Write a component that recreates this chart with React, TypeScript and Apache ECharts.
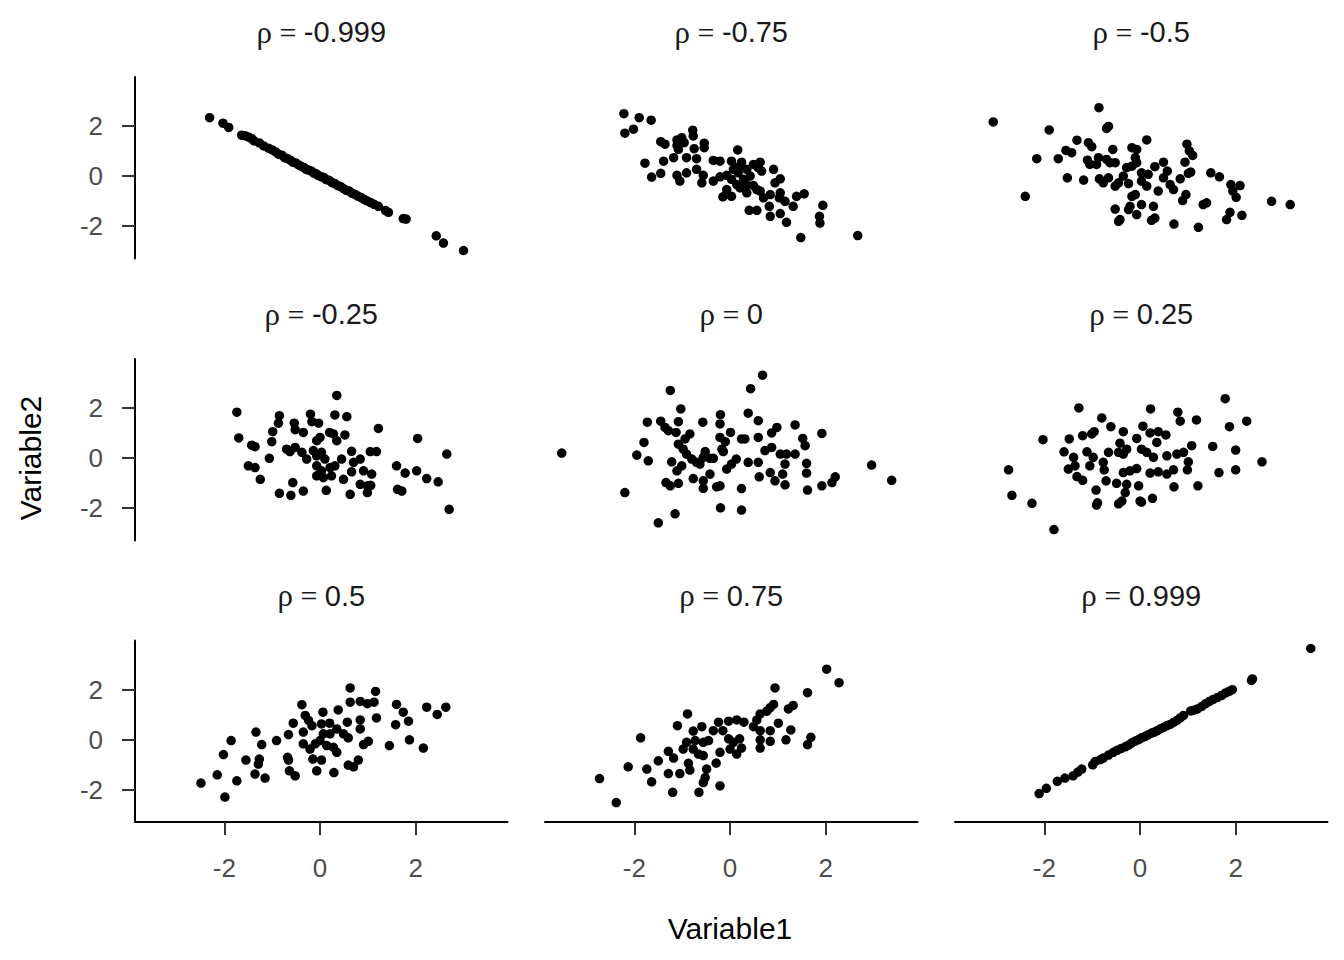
import React, { useEffect, useRef } from "react";
import * as echarts from "echarts";

const rhoLabels = ["-0.999", "-0.75", "-0.5", "-0.25", "0", "0.25", "0.5", "0.75", "0.999"];
const tickValues = [-2, 0, 2];
const xTitle = "Variable1";
const yTitle = "Variable2";

const rhoNeg999 = [[-2.31,2.34],[-2.03,2.12],[-1.91,1.95],[-1.64,1.64],[-1.57,1.62],[-1.50,1.57],[-1.43,1.50],[-1.38,1.41],[-1.27,1.33],[-1.18,1.21],[-1.08,1.12],[-1.00,1.05],[-0.93,0.97],[-0.87,0.88],[-0.80,0.84],[-0.74,0.74],[-0.68,0.70],[-0.62,0.64],[-0.57,0.56],[-0.51,0.53],[-0.45,0.45],[-0.40,0.40],[-0.34,0.35],[-0.29,0.27],[-0.24,0.24],[-0.18,0.20],[-0.13,0.12],[-0.08,0.09],[-0.03,0.02],[0.03,-0.03],[0.08,-0.06],[0.13,-0.14],[0.19,-0.17],[0.25,-0.26],[0.31,-0.30],[0.37,-0.38],[0.43,-0.42],[0.49,-0.50],[0.55,-0.57],[0.61,-0.60],[0.67,-0.69],[0.73,-0.73],[0.79,-0.80],[0.86,-0.86],[0.92,-0.93],[0.98,-0.99],[1.06,-1.06],[1.13,-1.13],[1.22,-1.21],[1.37,-1.38],[1.43,-1.45],[1.74,-1.70],[1.80,-1.72],[2.43,-2.39],[2.58,-2.68],[3.00,-2.98]];

const rhoNeg75 = [[-2.22,2.50],[-1.90,2.34],[-1.65,2.24],[-2.20,1.72],[-2.02,1.88],[-0.78,1.84],[-0.77,1.61],[-1.45,1.38],[-1.36,1.28],[-1.11,1.45],[-1.01,1.54],[-0.96,1.34],[-1.08,1.07],[-1.11,1.23],[-0.54,1.32],[-0.54,1.14],[-0.75,1.10],[0.16,1.05],[-1.78,0.52],[-1.39,0.60],[-1.18,0.74],[-0.91,0.74],[-0.70,0.70],[-0.35,0.63],[-0.21,0.60],[0.03,0.60],[0.24,0.56],[0.49,0.47],[0.63,0.56],[0.59,0.34],[0.91,0.27],[-1.64,-0.04],[-1.45,0.11],[-1.11,0.03],[-0.91,0.13],[-1.05,-0.20],[-0.70,0.27],[-0.56,0.03],[-0.59,-0.27],[-0.35,-0.20],[-0.21,-0.03],[-0.07,0.03],[0.07,0.27],[0.17,0.13],[0.28,-0.13],[0.35,-0.34],[0.49,-0.38],[0.66,0.20],[1.05,-0.11],[0.94,-0.27],[-0.15,-0.83],[0.03,-0.81],[-0.07,-0.54],[0.35,-0.67],[0.56,-0.54],[0.63,-0.60],[0.70,-0.87],[0.84,-0.74],[1.05,-0.67],[1.03,-0.87],[1.15,-1.01],[1.32,-1.21],[1.39,-0.81],[1.55,-0.71],[1.94,-1.17],[1.87,-1.61],[1.88,-1.88],[0.40,-1.37],[0.56,-1.37],[0.84,-1.61],[0.82,-1.21],[1.05,-1.50],[1.18,-1.85],[1.48,-2.46],[2.67,-2.38],[0.21,0.40],[0.10,0.34],[0.35,0.27],[0.42,0.00],[0.03,-0.13],[0.14,-0.34],[0.21,-0.47]];

const rhoNeg50 = [[-3.07,2.17],[-0.86,2.74],[-1.90,1.85],[-0.70,1.91],[-0.66,1.99],[0.14,1.45],[-1.32,1.44],[-1.08,1.34],[-1.01,1.18],[-1.55,1.03],[-1.43,0.94],[-0.57,1.07],[-0.17,1.14],[-0.07,1.07],[0.98,1.28],[1.03,1.01],[1.10,0.83],[-2.16,0.70],[-1.71,0.70],[-1.10,0.64],[-1.05,0.47],[-0.87,0.74],[-0.91,0.47],[-0.70,0.67],[-0.63,0.54],[-0.52,0.54],[-0.10,0.74],[-0.07,0.54],[-0.17,0.40],[-0.28,0.34],[0.49,0.56],[0.31,0.38],[0.94,0.56],[1.06,0.16],[1.01,0.11],[1.48,0.13],[1.66,-0.03],[0.57,0.20],[0.49,-0.07],[0.63,-0.34],[0.84,-0.11],[0.70,-0.54],[-1.52,-0.07],[-1.18,-0.16],[-0.85,-0.11],[-0.77,-0.27],[-0.66,-0.07],[-0.52,-0.40],[-0.45,-0.27],[-0.35,0.00],[-0.24,-0.30],[0.03,-0.20],[0.14,-0.40],[0.03,0.13],[0.17,0.07],[0.38,-0.60],[1.90,-0.34],[2.09,-0.38],[1.94,-0.60],[2.01,-0.85],[-2.40,-0.81],[-0.17,-0.81],[-0.10,-0.74],[0.96,-0.74],[0.89,-0.98],[0.03,-1.14],[0.28,-1.21],[-0.21,-1.21],[-0.24,-1.34],[-0.52,-1.32],[-0.07,-1.54],[-0.42,-1.74],[-0.45,-1.81],[0.31,-1.68],[0.24,-1.77],[0.71,-1.92],[1.22,-2.05],[1.39,-1.07],[1.32,-1.14],[1.88,-1.45],[1.81,-1.74],[2.13,-1.57],[2.75,-1.01],[3.14,-1.14]];

const rhoNeg25 = [[0.35,2.51],[-1.74,1.84],[-0.85,1.70],[-0.87,1.40],[-0.20,1.76],[-0.17,1.46],[-0.03,1.40],[0.31,1.73],[0.56,1.66],[-0.54,1.40],[-0.52,1.14],[-0.35,1.03],[-0.99,1.06],[-1.01,0.66],[1.22,1.19],[-1.70,0.81],[-1.43,0.52],[-1.36,0.46],[0.00,0.83],[-0.07,0.70],[0.20,1.03],[0.28,0.97],[0.52,0.93],[0.35,0.70],[-0.70,0.36],[-0.63,0.26],[-0.52,0.43],[-0.38,0.23],[-0.28,-0.04],[-0.14,0.30],[-0.07,0.09],[0.03,0.23],[0.10,-0.04],[0.66,0.27],[0.84,-0.04],[0.70,-0.17],[1.05,0.26],[1.18,0.26],[2.04,0.79],[2.65,0.16],[-1.06,-0.01],[-1.50,-0.31],[-1.36,-0.38],[-1.25,-0.85],[-0.07,-0.31],[0.03,-0.51],[0.21,-0.38],[0.45,-0.04],[0.31,-0.31],[-0.07,-0.71],[0.07,-0.78],[0.24,-0.71],[0.49,-0.85],[0.66,-0.55],[0.91,-0.51],[1.08,-0.64],[1.60,-0.31],[1.78,-0.60],[2.02,-0.51],[2.23,-0.82],[2.47,-0.95],[-0.57,-0.98],[-0.85,-1.41],[-0.61,-1.49],[-0.35,-1.32],[0.13,-1.29],[0.63,-1.45],[0.84,-1.05],[0.99,-1.11],[1.06,-1.09],[0.99,-1.38],[1.62,-1.25],[1.71,-1.32],[2.70,-2.05]];

const rhoZero = [[-3.52,0.20],[0.68,3.32],[0.43,2.78],[-1.25,2.71],[-1.03,1.97],[0.38,1.80],[-0.20,1.74],[-0.21,1.37],[-1.73,1.44],[-1.45,1.48],[-1.36,1.23],[-1.29,1.10],[-1.13,1.03],[-1.08,1.46],[-0.57,1.44],[0.59,1.50],[0.98,1.23],[0.87,1.01],[1.36,1.33],[1.92,0.99],[-1.80,0.63],[-1.95,0.12],[-1.71,-0.11],[-0.84,0.97],[-0.94,0.77],[-1.08,0.56],[-0.98,0.36],[-0.91,0.16],[-0.80,-0.04],[-0.70,-0.17],[-0.56,0.03],[-0.52,0.26],[-0.63,-0.24],[-0.42,-0.01],[-0.35,-0.01],[-0.21,0.83],[-0.10,0.66],[-0.17,0.36],[-0.14,0.26],[0.01,1.03],[0.24,0.77],[0.31,0.77],[0.59,0.83],[0.13,-0.04],[0.03,-0.24],[-0.07,-0.44],[0.38,-0.17],[0.59,-0.17],[0.73,0.30],[0.87,0.43],[1.05,0.16],[1.18,0.16],[1.36,0.16],[1.15,-0.24],[1.52,0.79],[1.57,0.50],[1.60,-0.21],[1.60,-0.60],[-1.22,-0.15],[-1.11,-0.51],[-1.01,-0.31],[-1.34,-0.98],[-1.25,-1.11],[-1.08,-1.01],[-0.77,-0.82],[-0.56,-0.91],[-0.56,-1.21],[-0.42,-0.64],[-0.28,-1.15],[-0.21,-1.11],[0.24,-1.22],[0.61,-0.75],[0.84,-0.58],[0.94,-0.91],[1.10,-0.64],[1.15,-1.07],[1.62,-1.28],[1.92,-1.11],[2.13,-0.98],[2.20,-0.75],[2.96,-0.28],[3.38,-0.89],[-2.20,-1.38],[-1.15,-2.23],[-1.50,-2.59],[-0.20,-1.99],[0.24,-2.08]];

const rhoPos25 = [[1.78,2.38],[-1.28,2.01],[0.22,1.97],[0.79,1.84],[0.84,1.48],[1.18,1.53],[2.23,1.48],[-0.80,1.61],[-0.61,1.26],[1.87,1.26],[-0.35,1.06],[0.06,1.28],[-0.07,0.79],[0.21,1.01],[0.38,1.06],[0.54,0.93],[0.35,0.63],[-2.03,0.74],[-1.48,0.77],[-1.20,0.90],[-0.96,1.06],[-1.01,0.97],[-0.42,0.60],[-0.28,0.36],[-0.35,0.16],[0.03,0.36],[0.14,0.23],[0.28,0.03],[1.08,0.50],[1.52,0.47],[2.00,0.32],[2.55,-0.15],[-1.59,0.25],[-1.39,0.03],[-1.36,-0.31],[-1.11,0.25],[-0.98,0.03],[-0.77,-0.17],[-0.66,0.23],[-1.50,-0.44],[-1.32,-0.74],[-1.20,-0.89],[-1.05,-0.31],[-0.75,-0.47],[-0.45,0.23],[0.56,0.09],[0.77,0.16],[0.91,0.23],[1.01,-0.15],[0.99,-0.47],[-0.35,-0.58],[-0.21,-0.51],[-0.07,-0.42],[0.21,-0.60],[0.38,-0.55],[0.56,-0.64],[0.70,-0.47],[1.65,-0.58],[2.00,-0.47],[-2.75,-0.47],[-0.71,-0.91],[-0.49,-1.01],[-0.28,-1.05],[-0.03,-1.11],[0.71,-1.15],[1.21,-1.11],[-0.92,-1.28],[-0.31,-1.38],[-0.38,-1.72],[-0.45,-1.83],[-0.89,-1.79],[-0.91,-1.88],[0.00,-1.72],[0.03,-1.76],[0.26,-1.61],[-2.68,-1.49],[-2.26,-1.81],[-1.80,-2.86]];

const rhoPos50 = [[0.63,2.07],[1.16,1.93],[-0.38,1.40],[0.06,1.10],[0.38,1.19],[0.63,1.50],[0.84,1.53],[0.99,1.44],[1.13,1.50],[1.60,1.41],[2.23,1.30],[2.63,1.30],[2.45,1.01],[1.74,1.10],[1.85,0.74],[1.18,0.87],[0.84,0.79],[0.84,0.43],[0.57,0.70],[1.58,0.60],[-0.56,0.66],[-0.31,0.97],[-0.24,0.77],[-0.17,0.56],[-0.35,0.30],[-1.34,0.30],[-1.86,-0.04],[-1.22,-0.20],[-0.91,-0.04],[-0.66,0.20],[0.03,0.63],[0.20,0.66],[0.07,0.23],[0.21,0.23],[0.35,0.43],[0.49,0.23],[0.59,0.07],[-0.35,-0.17],[-0.21,-0.38],[-0.10,-0.17],[0.00,-0.04],[0.14,-0.24],[0.28,-0.31],[0.35,-0.51],[-0.15,-0.78],[0.03,-0.82],[0.91,-0.20],[1.01,-0.07],[1.45,-0.24],[1.87,-0.01],[2.16,-0.34],[-2.02,-0.60],[-1.55,-0.82],[-1.27,-0.78],[-1.29,-0.98],[-0.68,-0.71],[-0.66,-0.82],[-0.64,-1.25],[-0.52,-1.45],[-0.07,-1.25],[0.29,-1.32],[0.59,-1.02],[0.70,-1.09],[0.80,-0.82],[-2.15,-1.41],[-1.74,-1.65],[-1.36,-1.38],[-1.15,-1.54],[-2.49,-1.74],[-1.99,-2.30]];

const rhoPos75 = [[2.02,2.82],[2.28,2.28],[0.94,2.07],[1.62,1.88],[1.32,1.37],[1.22,1.23],[0.91,1.41],[0.84,1.28],[0.77,1.14],[0.63,1.03],[0.56,0.79],[-0.89,1.03],[-1.10,0.56],[-0.24,0.70],[-0.03,0.74],[0.14,0.79],[0.29,0.70],[-0.59,0.52],[-0.77,0.34],[-0.35,0.36],[-0.15,0.36],[0.49,0.52],[0.63,0.36],[0.84,0.36],[1.01,0.66],[1.27,0.39],[-1.87,0.07],[-0.91,-0.11],[-0.73,-0.04],[-0.56,-0.11],[-0.45,-0.04],[-0.03,0.03],[0.07,-0.11],[0.20,0.03],[0.24,-0.34],[0.14,-0.58],[0.00,-0.38],[0.63,-0.01],[0.84,-0.07],[0.63,-0.34],[1.17,-0.01],[1.69,0.09],[1.62,-0.20],[-1.29,-0.47],[-1.18,-0.74],[-0.98,-0.38],[-0.77,-0.38],[-0.66,-0.58],[-0.56,-0.64],[-0.21,-0.51],[-1.50,-0.85],[-2.13,-1.09],[-1.74,-1.18],[-0.87,-0.95],[-0.84,-1.22],[-0.49,-1.18],[-0.29,-0.94],[-1.29,-1.36],[-1.05,-1.36],[-0.52,-1.52],[-0.56,-1.72],[-1.64,-1.69],[-0.21,-1.85],[-2.73,-1.56],[-1.20,-2.11],[-0.65,-2.11],[-2.38,-2.52]];

const rhoPos999 = [[-2.11,-2.16],[-1.96,-1.95],[-1.73,-1.67],[-1.57,-1.54],[-1.40,-1.45],[-1.30,-1.30],[-1.22,-1.18],[-0.99,-1.01],[-0.94,-0.88],[-0.83,-0.80],[-0.77,-0.74],[-0.66,-0.62],[-0.56,-0.51],[-0.48,-0.43],[-0.40,-0.36],[-0.31,-0.29],[-0.24,-0.22],[-0.17,-0.13],[-0.10,-0.06],[-0.03,0.00],[0.03,0.07],[0.10,0.12],[0.16,0.18],[0.24,0.26],[0.30,0.30],[0.36,0.36],[0.43,0.44],[0.50,0.50],[0.56,0.56],[0.63,0.61],[0.70,0.69],[0.77,0.77],[0.84,0.87],[0.91,0.97],[1.06,1.15],[1.12,1.18],[1.20,1.23],[1.29,1.33],[1.37,1.44],[1.45,1.53],[1.53,1.61],[1.62,1.69],[1.71,1.77],[1.79,1.87],[1.86,1.93],[1.93,2.00],[2.33,2.37],[2.35,2.43],[3.57,3.65]];

const panelData = [rhoNeg999, rhoNeg75, rhoNeg50, rhoNeg25, rhoZero, rhoPos25, rhoPos50, rhoPos75, rhoPos999];

const X_MIN = -3.87, X_MAX = 3.92, Y_MIN = -3.3, Y_MAX = 3.97;
const colLeft = [135, 545, 955];
const panelW = 372.5;
const rowTop = [77, 359, 640.5];
const panelH = 181.5;
const SANS = "'Liberation Sans', Arial, sans-serif";
const SERIF = "'Liberation Serif', 'DejaVu Serif', serif";

export default function App() {
  const ref = useRef<HTMLDivElement>(null);
  useEffect(() => {
    if (!ref.current) return;
    const chart = echarts.init(ref.current, undefined, { renderer: "svg" });
    const grids: any[] = [];
    const xAxes: any[] = [];
    const yAxes: any[] = [];
    const series: any[] = [];
    const graphics: any[] = [];
    for (let i = 0; i < 9; i++) {
      const r = Math.floor(i / 3);
      const c = i % 3;
      grids.push({ left: colLeft[c], top: rowTop[r], width: panelW, height: panelH, containLabel: false });
      const showX = r === 2;
      const showY = c === 0;
      xAxes.push({
        type: "value", gridIndex: i, min: X_MIN, max: X_MAX,
        splitLine: { show: false },
        axisLine: { show: showX, onZero: false, lineStyle: { color: "#000", width: 2 } },
        axisTick: { show: showX, length: 13, customValues: tickValues, lineStyle: { color: "#333333", width: 2 } },
        axisLabel: { show: showX, customValues: tickValues, margin: 33, fontSize: 26, color: "#4D4D4D", fontFamily: SANS },
      });
      yAxes.push({
        type: "value", gridIndex: i, min: Y_MIN, max: Y_MAX,
        splitLine: { show: false },
        axisLine: { show: showY, onZero: false, lineStyle: { color: "#000", width: 2 } },
        axisTick: { show: showY, length: 13, customValues: tickValues, lineStyle: { color: "#333333", width: 2 } },
        axisLabel: { show: showY, customValues: tickValues, margin: 32, fontSize: 26, color: "#4D4D4D", fontFamily: SANS },
      });
      series.push({
        type: "scatter", xAxisIndex: i, yAxisIndex: i, data: panelData[i],
        symbol: "circle", symbolSize: 9.5, itemStyle: { color: "#000", opacity: 1 },
      });
      graphics.push({
        type: "text",
        x: colLeft[c] + panelW / 2,
        y: rowTop[r] - 45,
        style: {
          text: "{g|ρ}{e| = }{v|" + rhoLabels[i] + "}",
          align: "center", verticalAlign: "middle",
          fill: "#1A1A1A",
          rich: {
            g: { fontFamily: SERIF, fontSize: 31, fill: "#1A1A1A" },
            e: { fontFamily: SERIF, fontSize: 30, fill: "#1A1A1A" },
            v: { fontFamily: SANS, fontSize: 29, fill: "#1A1A1A" },
          },
        },
      });
    }
    graphics.push({
      type: "text", x: 730, y: 928,
      style: { text: xTitle, fontSize: 30, fontFamily: SANS, fill: "#000", align: "center", verticalAlign: "middle" },
    });
    graphics.push({
      type: "text", x: 30, y: 458, rotation: Math.PI / 2,
      style: { text: yTitle, fontSize: 30, fontFamily: SANS, fill: "#000", align: "center", verticalAlign: "middle" },
    });
    chart.setOption({
      animation: false,
      backgroundColor: "#fff",
      grid: grids,
      xAxis: xAxes,
      yAxis: yAxes,
      series,
      graphic: graphics,
    });
    return () => chart.dispose();
  }, []);
  return <div ref={ref} style={{ position: "absolute", left: 0, top: 0, width: 1344, height: 960 }} />;
}
